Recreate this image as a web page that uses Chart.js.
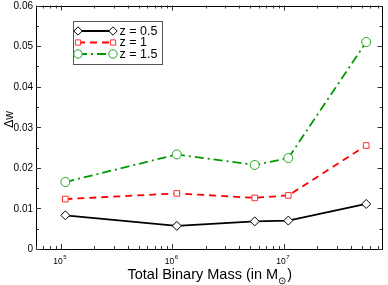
<!DOCTYPE html>
<html><head><meta charset="utf-8">
<script src="https://cdn.jsdelivr.net/npm/chart.js@4"></script>
<style>html,body{margin:0;padding:0;background:#fff}canvas{display:block}</style>
</head><body>
<canvas id="c" width="388" height="285"></canvas>
<script>
const masses = [1.1e5, 1.1e6, 5.5e6, 1.1e7, 5.5e7];
const wZ05 = [0.0083, 0.0057, 0.0068, 0.0070, 0.0111];
const wZ1  = [0.0123, 0.0137, 0.0126, 0.0132, 0.0255];
const wZ15 = [0.0165, 0.0233, 0.0207, 0.0224, 0.0510];
const seriesLabels = ['z = 0.5', 'z = 1', 'z = 1.5'];
const yTickValues = [0, 0.01, 0.02, 0.03, 0.04, 0.05, 0.06];
const yTickLabels = ['0', '0.01', '0.02', '0.03', '0.04', '0.05', '0.06'];
const xTickExponents = [5, 6, 7];
const xTitle = 'Total Binary Mass (in M';
const xTitleSub = '\u2299';
const yTitle = '\u0394w';

const FONT = '"Liberation Sans", Arial, sans-serif';
const pts = arr => masses.map((m, i) => ({x: m, y: arr[i]}));

const datasets = [
  {label: seriesLabels[0], data: pts(wZ05), borderColor: '#000', backgroundColor: '#fff',
   pointBorderColor: '#000', pointStyle: 'rectRot', pointRadius: 4.5, borderWidth: 1.8, pointBorderWidth: 1, borderDash: []},
  {label: seriesLabels[1], data: pts(wZ1), borderColor: '#ff0000', backgroundColor: '#fff',
   pointBorderColor: '#ff3030', pointStyle: 'rect', pointRadius: 4, borderWidth: 1.8, pointBorderWidth: 1, borderDash: [7, 5]},
  {label: seriesLabels[2], data: pts(wZ15), borderColor: '#009900', backgroundColor: '#fff',
   pointBorderColor: '#22aa22', pointStyle: 'circle', pointRadius: 4.5, borderWidth: 1.8, pointBorderWidth: 1, borderDash: [9, 4, 2, 4]}
];

const framePlugin = {
  id: 'frame',
  afterDraw(chart) {
    const ctx = chart.ctx, a = chart.chartArea;
    const xs = chart.scales.x, ys = chart.scales.y;
    ctx.save();
    ctx.strokeStyle = '#000'; ctx.lineWidth = 1;
    ctx.strokeRect(Math.round(a.left) + 0.5, Math.round(a.top) + 0.5,
                   Math.round(a.right - a.left) - 1, Math.round(a.bottom - a.top) - 1);
    ctx.strokeStyle = '#333';
    for (let v = 0; v <= 0.0601; v += 0.005) {
      const major = Math.abs(v / 0.01 - Math.round(v / 0.01)) < 1e-6;
      const len = major ? 5 : 3;
      const y = Math.round(ys.getPixelForValue(v)) + 0.5;
      ctx.beginPath();
      ctx.moveTo(a.left, y); ctx.lineTo(a.left + len, y);
      ctx.moveTo(a.right, y); ctx.lineTo(a.right - len, y);
      ctx.stroke();
    }
    for (let e = 4; e <= 7; e++) {
      for (let k = 1; k <= 9; k++) {
        const v = k * Math.pow(10, e);
        if (v < xs.min || v > xs.max) continue;
        const len = k === 1 ? 5 : 3;
        const x = Math.round(xs.getPixelForValue(v)) + 0.5;
        ctx.beginPath();
        ctx.moveTo(x, a.bottom); ctx.lineTo(x, a.bottom - len);
        ctx.moveTo(x, a.top); ctx.lineTo(x, a.top + len);
        ctx.stroke();
      }
    }
    ctx.fillStyle = '#000';
    ctx.font = '10px ' + FONT;
    ctx.textAlign = 'right'; ctx.textBaseline = 'middle';
    yTickValues.forEach((v, i) => {
      ctx.fillText(yTickLabels[i], a.left - 3, ys.getPixelForValue(v) + 0.5);
    });
    xTickExponents.forEach(e => {
      const x = xs.getPixelForValue(Math.pow(10, e));
      ctx.font = '8.5px ' + FONT;
      ctx.textAlign = 'right'; ctx.textBaseline = 'alphabetic';
      ctx.fillText('10', x + 2, 263.5);
      ctx.font = '6px ' + FONT; ctx.textAlign = 'left';
      ctx.fillText(String(e), x + 2.5, 259);
    });
    ctx.font = '14.5px ' + FONT;
    const w1 = ctx.measureText(xTitle).width;
    ctx.font = '10px ' + FONT;
    const w2 = ctx.measureText(xTitleSub).width;
    ctx.font = '14.5px ' + FONT;
    const w3 = ctx.measureText(')').width;
    let sx = (a.left + a.right) / 2 - (w1 + w2 + w3 + 1) / 2 + 0.5;
    ctx.textAlign = 'left'; ctx.textBaseline = 'alphabetic';
    ctx.fillText(xTitle, sx, 279);
    ctx.font = '10px ' + FONT;
    ctx.fillText(xTitleSub, sx + w1, 283.5);
    ctx.font = '14.5px ' + FONT;
    ctx.fillText(')', sx + w1 + w2 + 1, 279);
    ctx.save();
    ctx.translate(9.5, 119.5);
    ctx.rotate(-Math.PI / 2);
    ctx.font = '12px ' + FONT;
    ctx.textAlign = 'center'; ctx.textBaseline = 'middle';
    ctx.fillText(yTitle, 0, 0);
    ctx.restore();
    ctx.fillStyle = '#fff';
    ctx.fillRect(74, 22, 88, 42);
    ctx.strokeStyle = '#555'; ctx.lineWidth = 1;
    ctx.strokeRect(73.5, 21.5, 89, 43);
    const rows = [31, 42.5, 54];
    chart.data.datasets.forEach((ds, i) => {
      const y = rows[i];
      ctx.save();
      ctx.strokeStyle = ds.borderColor; ctx.lineWidth = ds.borderWidth;
      ctx.setLineDash(ds.borderDash);
      ctx.beginPath(); ctx.moveTo(78, y); ctx.lineTo(113, y); ctx.stroke();
      ctx.restore();
      [78, 113].forEach(px => {
        ctx.save();
        ctx.lineWidth = ds.pointBorderWidth;
        ctx.strokeStyle = ds.pointBorderColor; ctx.fillStyle = '#fff';
        Chart.helpers.drawPoint(ctx, {pointStyle: ds.pointStyle, radius: ds.pointRadius - 0.3,
          rotation: 0, borderWidth: ds.pointBorderWidth}, px, y);
        ctx.restore();
      });
      ctx.fillStyle = '#000';
      ctx.font = '12.5px ' + FONT;
      ctx.textAlign = 'left'; ctx.textBaseline = 'middle';
      ctx.fillText(ds.label, 119.5, y + 0.5);
    });
    ctx.restore();
  }
};

new Chart(document.getElementById('c'), {
  type: 'line',
  data: {datasets},
  options: {
    responsive: false, animation: false,
    layout: {padding: {left: 36, right: 2, top: 4, bottom: 36}},
    plugins: {legend: {display: false}, tooltip: {enabled: false}},
    elements: {line: {tension: 0}},
    scales: {
      x: {type: 'logarithmic', min: 6e4, max: 7.7e7, display: false},
      y: {type: 'linear', min: 0, max: 0.06, display: false}
    }
  },
  plugins: [framePlugin]
});
</script>
</body></html>
